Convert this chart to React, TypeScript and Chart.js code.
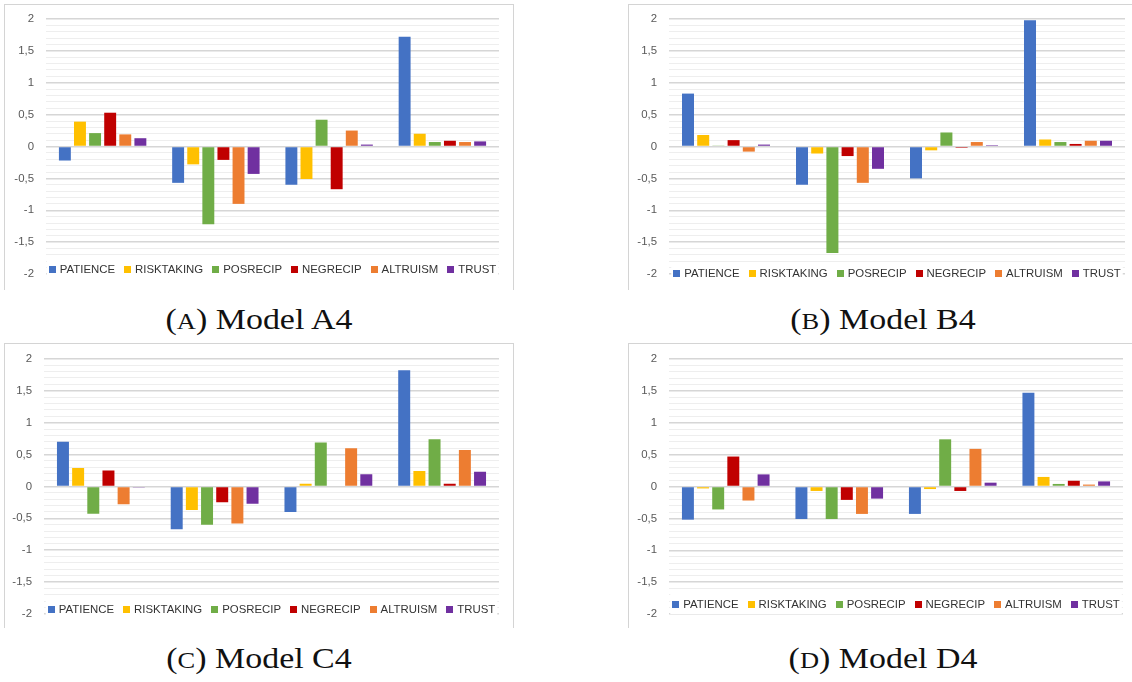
import React, { useEffect, useRef } from 'react';
import { Chart, registerables } from 'chart.js';

Chart.register(...registerables);

// ---------- data ----------
const CATEGORIES = ['1', '2', '3', '4'];
const SERIES_NAMES = ['PATIENCE', 'RISKTAKING', 'POSRECIP', 'NEGRECIP', 'ALTRUISM', 'TRUST'];
const SERIES_COLORS = ['#4472C4', '#FFC000', '#70AD47', '#C00000', '#ED7D31', '#7030A0'];

const Y_MAJOR_VALUES = [-2, -1.5, -1, -0.5, 0, 0.5, 1, 1.5, 2];
const Y_TICK_LABELS = ['-2', '-1,5', '-1', '-0,5', '0', '0,5', '1', '1,5', '2'];
const Y_MIN = -2;
const Y_MAX = 2;
const Y_MINOR_STEP = 0.1;

// Model A4
const A4_PATIENCE = [-0.22, -0.57, -0.6, 1.72];
const A4_RISKTAKING = [0.39, -0.28, -0.51, 0.2];
const A4_POSRECIP = [0.21, -1.22, 0.42, 0.07];
const A4_NEGRECIP = [0.53, -0.21, -0.67, 0.09];
const A4_ALTRUISM = [0.19, -0.9, 0.25, 0.07];
const A4_TRUST = [0.13, -0.43, 0.03, 0.08];

// Model B4
const B4_PATIENCE = [0.83, -0.6, -0.5, 1.98];
const B4_RISKTAKING = [0.18, -0.11, -0.06, 0.11];
const B4_POSRECIP = [0.015, -1.67, 0.22, 0.07];
const B4_NEGRECIP = [0.1, -0.15, -0.02, 0.04];
const B4_ALTRUISM = [-0.08, -0.57, 0.07, 0.09];
const B4_TRUST = [0.03, -0.35, 0.02, 0.09];

// Model C4
const C4_PATIENCE = [0.7, -0.67, -0.4, 1.82];
const C4_RISKTAKING = [0.29, -0.37, 0.04, 0.24];
const C4_POSRECIP = [-0.43, -0.6, 0.69, 0.74];
const C4_NEGRECIP = [0.25, -0.25, 0.01, 0.04];
const C4_ALTRUISM = [-0.28, -0.58, 0.6, 0.57];
const C4_TRUST = [-0.015, -0.27, 0.19, 0.23];

// Model D4
const D4_PATIENCE = [-0.52, -0.51, -0.43, 1.47];
const D4_RISKTAKING = [-0.03, -0.07, -0.04, 0.15];
const D4_POSRECIP = [-0.36, -0.51, 0.74, 0.04];
const D4_NEGRECIP = [0.47, -0.21, -0.07, 0.09];
const D4_ALTRUISM = [-0.22, -0.43, 0.59, 0.03];
const D4_TRUST = [0.19, -0.19, 0.06, 0.08];

const CAPTION_LETTERS = ['A', 'B', 'C', 'D'];
const CAPTION_TITLES = ['Model A4', 'Model B4', 'Model C4', 'Model D4'];

const MODEL_SERIES = [
  [A4_PATIENCE, A4_RISKTAKING, A4_POSRECIP, A4_NEGRECIP, A4_ALTRUISM, A4_TRUST],
  [B4_PATIENCE, B4_RISKTAKING, B4_POSRECIP, B4_NEGRECIP, B4_ALTRUISM, B4_TRUST],
  [C4_PATIENCE, C4_RISKTAKING, C4_POSRECIP, C4_NEGRECIP, C4_ALTRUISM, C4_TRUST],
  [D4_PATIENCE, D4_RISKTAKING, D4_POSRECIP, D4_NEGRECIP, D4_ALTRUISM, D4_TRUST],
];

// ---------- layout ----------
type PanelLayout = {
  x: number; y: number; w: number; h: number;
  left: number; right: number; top: number; bottom: number;
  legendY: number;
  frame: { x: number; y: number; w: number; h: number };
  captionCx: number; captionTop: number;
};

const PANELS: PanelLayout[] = [
  { x: 0, y: 0, w: 520, h: 300, left: 46, right: 499, top: 19, bottom: 274, legendY: 269,
    frame: { x: 4, y: 4, w: 510, h: 286 }, captionCx: 259, captionTop: 305 },
  { x: 566, y: 0, w: 566, h: 300, left: 103, right: 559, top: 19, bottom: 274, legendY: 273,
    frame: { x: 628, y: 4, w: 520, h: 286 }, captionCx: 883, captionTop: 305 },
  { x: 0, y: 340, w: 520, h: 300, left: 44, right: 499, top: 18, bottom: 274, legendY: 269,
    frame: { x: 4, y: 343, w: 510, h: 285 }, captionCx: 259, captionTop: 644 },
  { x: 566, y: 340, w: 566, h: 300, left: 103, right: 557, top: 19, bottom: 274, legendY: 264,
    frame: { x: 628, y: 343, w: 520, h: 285 }, captionCx: 883, captionTop: 644 },
];

const FONT_SANS = '"Liberation Sans", Arial, sans-serif';

function majorIndex(v: number): number {
  return Y_MAJOR_VALUES.findIndex((m) => Math.abs(m - v) < 1e-6);
}

const overlayLegend = {
  id: 'overlayLegend',
  afterDatasetsDraw(chart: any, _args: any, opts: any) {
    const { ctx, chartArea } = chart;
    const datasets = chart.data.datasets;
    ctx.save();
    ctx.font = `${opts.fontSize}px ${FONT_SANS}`;
    const box = opts.box;
    const boxGap = opts.boxGap;
    const itemGap = opts.itemGap;
    const widths = datasets.map((ds: any) => box + boxGap + ctx.measureText(ds.label).width);
    const total = widths.reduce((s: number, w: number) => s + w, 0) + itemGap * (datasets.length - 1);
    let x = (chartArea.left + chartArea.right) / 2 - total / 2;
    const y = opts.y;
    ctx.fillStyle = '#ffffff';
    ctx.fillRect(x - 2, y - 10, total + 4, 20);
    ctx.textBaseline = 'middle';
    ctx.textAlign = 'left';
    datasets.forEach((ds: any, i: number) => {
      ctx.fillStyle = ds.backgroundColor;
      ctx.fillRect(Math.round(x), Math.round(y - box / 2), box, box);
      ctx.fillStyle = '#333333';
      ctx.fillText(ds.label, x + box + boxGap, y + 0.5);
      x += widths[i] + itemGap;
    });
    ctx.restore();
  },
};

function Panel({ idx }: { idx: number }) {
  const ref = useRef<HTMLCanvasElement | null>(null);
  const p = PANELS[idx];
  useEffect(() => {
    const canvas = ref.current;
    if (!canvas) return;
    const series = MODEL_SERIES[idx];
    const chart = new Chart(canvas, {
      type: 'bar',
      data: {
        labels: CATEGORIES,
        datasets: SERIES_NAMES.map((name, i) => ({
          label: name,
          data: series[i],
          backgroundColor: SERIES_COLORS[i],
          borderWidth: 0,
          categoryPercentage: 0.8,
          barPercentage: 0.79,
        })),
      },
      options: {
        animation: false,
        responsive: false,
        devicePixelRatio: 1,
        events: [],
        layout: {
          padding: { left: 0, top: p.top, right: p.w - p.right, bottom: p.h - p.bottom },
        },
        plugins: {
          legend: { display: false },
          tooltip: { enabled: false },
          title: { display: false },
          overlayLegend: { y: p.legendY, fontSize: 11.4, box: 7, boxGap: 4, itemGap: 9 },
        } as any,
        scales: {
          x: { display: false },
          y: {
            min: Y_MIN,
            max: Y_MAX,
            afterFit: (scale: any) => { scale.width = p.left; },
            border: { display: false },
            grid: {
              drawTicks: false,
              color: (c: any) => (majorIndex(c.tick ? c.tick.value : 0) >= 0 ? '#d6d6d6' : '#eeeeee'),
              lineWidth: (c: any) => (majorIndex(c.tick ? c.tick.value : 0) >= 0 ? 1.5 : 1),
            },
            ticks: {
              stepSize: Y_MINOR_STEP,
              autoSkip: false,
              padding: 12,
              color: '#595959',
              font: { family: FONT_SANS, size: 11.4 },
              callback: (v: any) => {
                const k = majorIndex(Number(v));
                return k >= 0 ? Y_TICK_LABELS[k] : '';
              },
            },
          },
        },
      },
      plugins: [overlayLegend],
    });
    return () => chart.destroy();
  }, [idx]);

  return (
    <>
      <div
        style={{
          position: 'absolute',
          left: p.frame.x,
          top: p.frame.y,
          width: p.frame.w,
          height: p.frame.h,
          borderTop: '1px solid #d4d4d4',
          borderLeft: '1px solid #d4d4d4',
          borderRight: '1px solid #d4d4d4',
          boxSizing: 'border-box',
        }}
      />
      <canvas
        ref={ref}
        width={p.w}
        height={p.h}
        style={{ position: 'absolute', left: p.x, top: p.y, width: p.w, height: p.h }}
      />
      <div
        style={{
          position: 'absolute',
          left: p.captionCx - 200,
          top: p.captionTop,
          width: 400,
          textAlign: 'center',
          fontFamily: '"Liberation Serif", "Times New Roman", serif',
          fontSize: 29,
          lineHeight: '29px',
          color: '#111',
          whiteSpace: 'nowrap',
          transform: 'scaleX(1.17)',
          transformOrigin: 'center',
        }}
      >
        (<span style={{ fontSize: '0.78em' }}>{CAPTION_LETTERS[idx]}</span>) {CAPTION_TITLES[idx]}
      </div>
    </>
  );
}

export default function App() {
  return (
    <div
      style={{
        position: 'absolute',
        left: 0,
        top: 0,
        width: 1132,
        height: 682,
        overflow: 'hidden',
        background: '#ffffff',
      }}
    >
      {PANELS.map((_, i) => (
        <Panel key={i} idx={i} />
      ))}
    </div>
  );
}
